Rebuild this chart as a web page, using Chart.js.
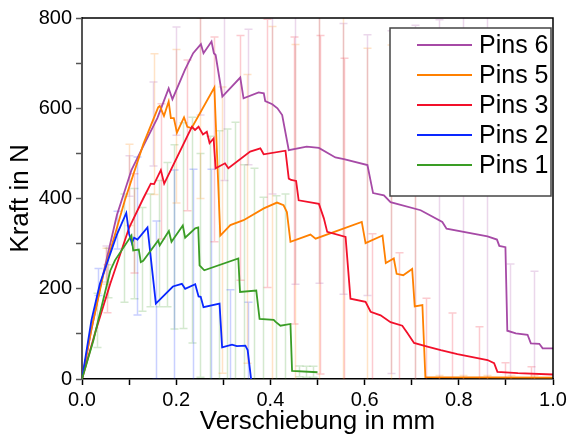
<!DOCTYPE html>
<html>
<head>
<meta charset="utf-8">
<script src="https://cdn.jsdelivr.net/npm/chart.js@4/dist/chart.umd.min.js"></script>
<style>
  html, body { margin: 0; padding: 0; background: #fff; }
  canvas { display: block; }
</style>
</head>
<body>
<canvas id="kraftChart" width="567" height="437"></canvas>
<script>
// Mittelwertkurven (Verschiebung in mm, Kraft in N)
const pins6X = [0, 0.02, 0.04, 0.074, 0.105, 0.133, 0.16, 0.184, 0.192, 0.2185, 0.236, 0.2525, 0.258, 0.275, 0.28, 0.2837, 0.298, 0.336, 0.343, 0.375, 0.386, 0.389, 0.404, 0.415, 0.425, 0.439, 0.477, 0.503, 0.538, 0.556, 0.606, 0.618, 0.641, 0.655, 0.719, 0.765, 0.774, 0.861, 0.881, 0.886, 0.899, 0.903, 0.921, 0.946, 0.953, 0.971, 0.978, 1.0];
const pins6Y = [0, 110, 210, 363, 463, 522, 578, 644, 620, 685, 722, 742, 722, 748, 722, 718, 626, 668, 622, 635, 633, 616, 609, 600, 585, 507, 515, 512, 491, 487, 474, 412, 407, 392, 374, 348, 333, 316, 309, 295, 292, 107, 101, 98, 79, 78, 68, 68];

const pins5X = [0, 0.02, 0.045, 0.091, 0.13, 0.1617, 0.165, 0.174, 0.184, 0.1887, 0.195, 0.2015, 0.2166, 0.2236, 0.2326, 0.281, 0.2936, 0.315, 0.343, 0.386, 0.414, 0.428, 0.435, 0.4426, 0.485, 0.496, 0.594, 0.602, 0.638, 0.645, 0.662, 0.668, 0.682, 0.701, 0.7064, 0.7227, 0.729, 1.0];
const pins5Y = [0, 110, 230, 396, 520, 602, 605, 583, 615, 578, 578, 546, 580, 559, 556, 646, 318, 341, 352, 378, 391, 385, 370, 304, 320, 311, 348, 301, 318, 257, 267, 233, 230, 244, 161, 164, 4, 3];

const pins3X = [0, 0.03, 0.06, 0.1, 0.13, 0.146, 0.153, 0.1674, 0.1745, 0.2333, 0.24, 0.2475, 0.2568, 0.265, 0.2709, 0.2794, 0.2837, 0.3036, 0.3107, 0.357, 0.3787, 0.3857, 0.432, 0.439, 0.444, 0.4546, 0.46, 0.503, 0.5135, 0.5206, 0.5596, 0.57, 0.602, 0.6128, 0.634, 0.655, 0.68, 0.6908, 0.705, 0.7333, 0.7617, 0.797, 0.861, 0.875, 0.882, 0.9255, 1.0];
const pins3Y = [0, 110, 211, 335, 400, 433, 432, 463, 433, 559, 552, 559, 542, 548, 523, 533, 467, 478, 467, 504, 511, 498, 506, 444, 441, 439, 396, 388, 356, 326, 315, 178, 171, 149, 141, 126, 118, 102, 80, 72, 64, 55, 42, 35, 16, 13, 10];

const pins2X = [0, 0.02, 0.038, 0.074, 0.094, 0.1, 0.106, 0.1106, 0.1177, 0.139, 0.1568, 0.193, 0.212, 0.219, 0.2404, 0.2475, 0.252, 0.258, 0.292, 0.2975, 0.3185, 0.3287, 0.3468, 0.3517, 0.359];
const pins2Y = [0, 130, 211, 320, 368, 322, 301, 313, 309, 336, 167, 205, 211, 200, 210, 183, 182, 159, 167, 70, 76, 73, 74, 64, 0];

const pins1X = [0, 0.024, 0.06, 0.07, 0.105, 0.1087, 0.1206, 0.1248, 0.13, 0.1617, 0.165, 0.1844, 0.19, 0.214, 0.219, 0.2404, 0.2468, 0.2496, 0.2596, 0.3319, 0.3355, 0.37, 0.377, 0.407, 0.4106, 0.4213, 0.4426, 0.446, 0.5];
const pins1Y = [0, 85, 240, 263, 318, 285, 287, 259, 262, 307, 296, 328, 304, 340, 313, 334, 336, 252, 241, 267, 193, 196, 133, 131, 127, 118, 122, 18, 15];

// Standardabweichungen: Position, Mittelwert, halbe Balkenlaenge
const pins6ErrX = [0.05, 0.1, 0.151, 0.2, 0.25, 0.302, 0.352, 0.403, 0.453, 0.504, 0.554, 0.606, 0.655, 0.706, 0.757, 0.808, 0.859, 0.9085, 0.96];
const pins6ErrY = [255, 450, 565, 660, 735, 640, 625, 610, 510, 512, 488, 474, 392, 374, 348, 340, 316, 104, 75];
const pins6ErrD = [40, 45, 93, 120, 150, 200, 150, 200, 300, 300, 300, 289, 380, 410, 448, 500, 520, 151, 164];

const pins5ErrX = [0.05, 0.1, 0.153, 0.2, 0.25, 0.297, 0.35, 0.4035, 0.453, 0.504, 0.554, 0.606, 0.655, 0.706, 0.757, 0.808, 0.859, 0.91, 0.96];
const pins5ErrY = [250, 430, 565, 560, 600, 330, 355, 385, 310, 315, 335, 300, 260, 245, 3, 3, 3, 3, 3];
const pins5ErrD = [40, 90, 156, 170, 200, 317, 320, 396, 431, 500, 480, 433, 480, 500, 5, 5, 5, 5, 5];

const pins3ErrX = [0.054, 0.11, 0.167, 0.222, 0.281, 0.336, 0.393, 0.4496, 0.505, 0.556, 0.615, 0.673, 0.73, 0.785, 0.842, 0.898, 0.953];
const pins3ErrY = [200, 345, 460, 540, 531, 490, 500, 440, 386, 318, 150, 122, 72, 57, 46, 15, 11];
const pins3ErrD = [53, 110, 150, 167, 227, 271, 297, 318, 375, 393, 172, 158, 107, 89, 70, 21, 16];

const pins2ErrX = [0.035, 0.074, 0.116, 0.157, 0.196, 0.2355, 0.274, 0.3135, 0.352];
const pins2ErrY = [215, 330, 317, 175, 205, 210, 165, 76, 70];
const pins2ErrD = [30, 42, 175, 175, 258, 255, 300, 122, 100];

const pins1ErrX = [0.031, 0.056, 0.089, 0.11, 0.127, 0.145, 0.163, 0.18, 0.196, 0.214, 0.233, 0.251, 0.271, 0.29, 0.308, 0.3255, 0.345, 0.3645, 0.385, 0.411, 0.432, 0.46, 0.475, 0.49];
const pins1ErrY = [130, 235, 290, 300, 265, 285, 300, 320, 315, 340, 330, 252, 243, 250, 258, 265, 195, 196, 133, 131, 122, 17, 16, 16];
const pins1ErrD = [60, 55, 120, 122, 115, 125, 140, 160, 204, 228, 250, 248, 295, 300, 296, 304, 280, 271, 270, 275, 288, 12, 12, 12];

const legendOrder = ['Pins 6', 'Pins 5', 'Pins 3', 'Pins 2', 'Pins 1'];

function points(xs, ys) {
  return xs.map((x, i) => ({ x: x, y: ys[i] }));
}

function makeSet(label, xs, ys, color, ex, ey, ed) {
  return {
    label: label,
    data: points(xs, ys),
    borderColor: color,
    backgroundColor: color,
    borderWidth: 1.8,
    pointRadius: 0,
    tension: 0,
    fill: false,
    errorBars: { x: ex, y: ey, d: ed, color: color }
  };
}

// Fehlerbalken hinter den Kurven zeichnen
const errorBarPlugin = {
  id: 'errorBars',
  beforeDatasetsDraw(chart) {
    const ctx = chart.ctx;
    const area = chart.chartArea;
    const xs = chart.scales.x;
    const ys = chart.scales.y;
    ctx.save();
    ctx.beginPath();
    ctx.rect(area.left, area.top, area.right - area.left, area.bottom - area.top);
    ctx.clip();
    chart.data.datasets.forEach(ds => {
      const eb = ds.errorBars;
      if (!eb) return;
      ctx.strokeStyle = eb.color;
      ctx.globalAlpha = 0.22;
      ctx.lineWidth = 1.5;
      eb.x.forEach((xv, i) => {
        const px = Math.round(xs.getPixelForValue(xv)) + 0.5;
        const top = ys.getPixelForValue(eb.y[i] + eb.d[i]);
        const bot = ys.getPixelForValue(eb.y[i] - eb.d[i]);
        ctx.beginPath();
        ctx.moveTo(px, top);
        ctx.lineTo(px, bot);
        ctx.moveTo(px - 4, top);
        ctx.lineTo(px + 4, top);
        ctx.moveTo(px - 4, bot);
        ctx.lineTo(px + 4, bot);
        ctx.stroke();
      });
    });
    ctx.restore();
  }
};

// Rahmen oben/rechts und Legende im Diagramm
const framePlugin = {
  id: 'frame',
  afterDraw(chart) {
    const ctx = chart.ctx;
    const a = chart.chartArea;
    ctx.save();
    ctx.strokeStyle = '#000';
    ctx.lineWidth = 1.5;
    ctx.beginPath();
    ctx.moveTo(a.left, a.top);
    ctx.lineTo(a.right, a.top);
    ctx.lineTo(a.right, a.bottom);
    ctx.stroke();

    const boxL = a.right - 163, boxT = a.top + 10, boxW = 161, boxH = 168;
    ctx.fillStyle = '#fff';
    ctx.fillRect(boxL, boxT, boxW, boxH);
    ctx.strokeStyle = '#444';
    ctx.lineWidth = 1.5;
    ctx.strokeRect(boxL, boxT, boxW, boxH);
    ctx.font = '25px "Liberation Sans", Arial, sans-serif';
    ctx.textBaseline = 'middle';
    ctx.fillStyle = '#000';
    legendOrder.forEach((name, i) => {
      const ds = chart.data.datasets.find(d => d.label === name);
      const y = boxT + 17 + i * 30;
      ctx.strokeStyle = ds.borderColor;
      ctx.lineWidth = 1.8;
      ctx.beginPath();
      ctx.moveTo(boxL + 27, y);
      ctx.lineTo(boxL + 82, y);
      ctx.stroke();
      ctx.fillText(name, boxL + 89, y + 1);
    });
    ctx.restore();
  }
};

Chart.defaults.font.family = '"Liberation Sans", Arial, sans-serif';
Chart.defaults.color = '#000';

const ctx = document.getElementById('kraftChart').getContext('2d');
new Chart(ctx, {
  type: 'line',
  data: {
    datasets: [
      makeSet('Pins 1', pins1X, pins1Y, '#3a9d25', pins1ErrX, pins1ErrY, pins1ErrD),
      makeSet('Pins 2', pins2X, pins2Y, '#0a28ff', pins2ErrX, pins2ErrY, pins2ErrD),
      makeSet('Pins 3', pins3X, pins3Y, '#f2102a', pins3ErrX, pins3ErrY, pins3ErrD),
      makeSet('Pins 5', pins5X, pins5Y, '#ff8000', pins5ErrX, pins5ErrY, pins5ErrD),
      makeSet('Pins 6', pins6X, pins6Y, '#a64aa6', pins6ErrX, pins6ErrY, pins6ErrD)
    ]
  },
  options: {
    responsive: false,
    animation: false,
    devicePixelRatio: 1,
    layout: { padding: { top: 18, right: 14, left: 0, bottom: 0 } },
    plugins: {
      legend: { display: false },
      tooltip: { enabled: false }
    },
    scales: {
      x: {
        type: 'linear',
        min: 0,
        max: 1,
        afterFit: s => { s.height = 58; s.paddingLeft = 0; s.paddingRight = 0; },
        ticks: {
          stepSize: 0.1,
          autoSkip: false,
          maxRotation: 0,
          padding: 3,
          font: { size: 20 },
          callback: v => (Math.round(v * 10) % 2 === 0 ? v.toFixed(1) : '')
        },
        grid: { drawOnChartArea: false, tickLength: 6, tickColor: '#000', tickWidth: 1.5 },
        border: { display: true, color: '#000', width: 1.5 },
        title: { display: true, text: 'Verschiebung in mm', font: { size: 26 }, padding: { top: 0, bottom: 0 } }
      },
      y: {
        min: 0,
        max: 800,
        afterFit: s => { s.width = 82; s.paddingTop = 0; s.paddingBottom = 0; },
        ticks: {
          stepSize: 100,
          autoSkip: false,
          padding: 4,
          font: { size: 20 },
          callback: v => (v % 200 === 0 ? v : '')
        },
        grid: { drawOnChartArea: false, tickLength: 6, tickColor: '#555', tickWidth: 1.5 },
        border: { display: true, color: '#555', width: 2 },
        title: { display: true, text: 'Kraft in N', font: { size: 26 }, padding: { top: 5, bottom: 0 } }
      }
    }
  },
  plugins: [errorBarPlugin, framePlugin]
});
</script>
</body>
</html>
